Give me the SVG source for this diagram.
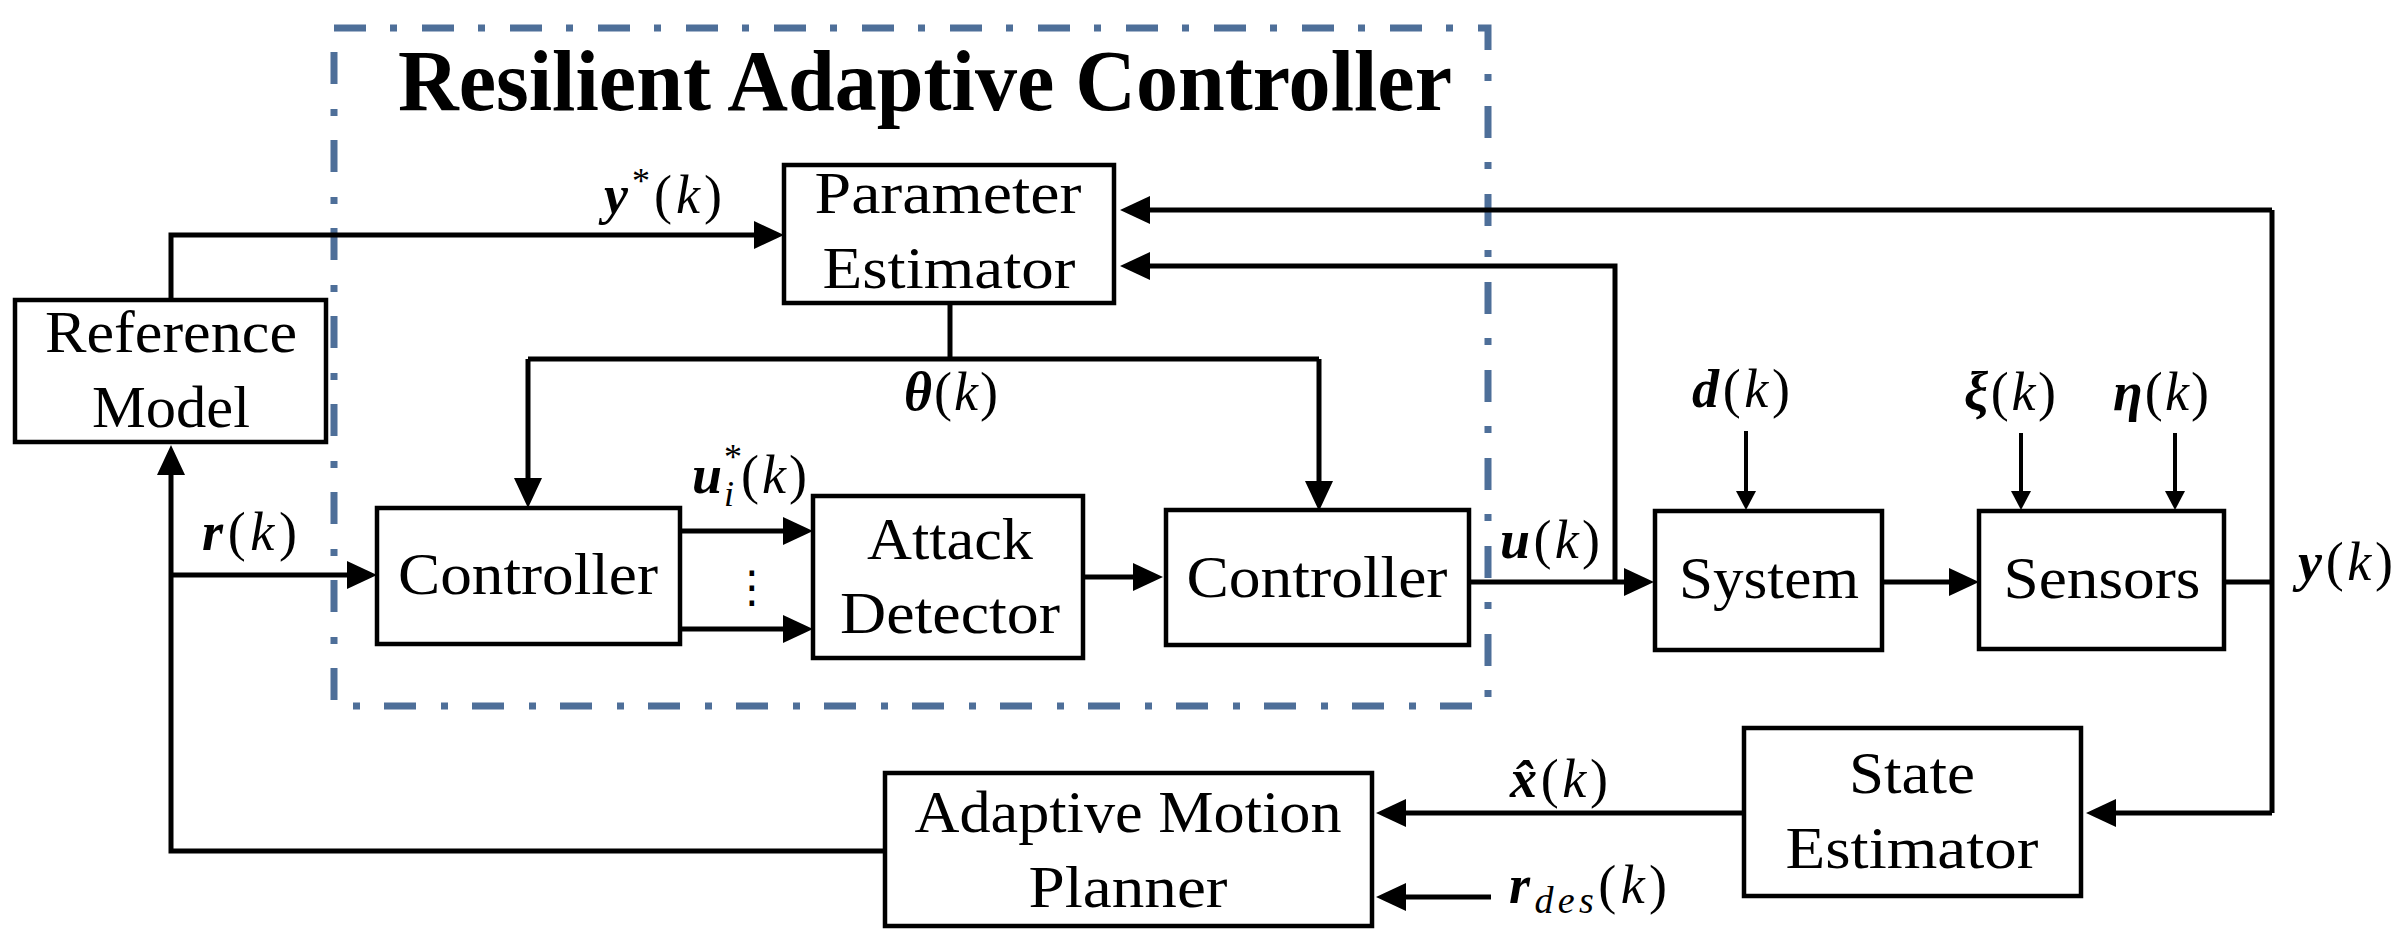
<svg xmlns="http://www.w3.org/2000/svg" width="2400" height="944" viewBox="0 0 2400 944">
<style>
.box{fill:#fff;stroke:#000;stroke-width:4.5}
.lbl{font-family:"Liberation Serif","DejaVu Serif",serif;font-size:60px;fill:#000;text-anchor:middle}
.m{font-family:"Liberation Serif","DejaVu Serif",serif;font-size:54px;fill:#000}
.v{font-weight:bold;font-style:italic}
.it{font-style:italic}
.c{fill:none;stroke:#000;stroke-width:5}
.t{fill:none;stroke:#000;stroke-width:4}
</style>
<defs>
<marker id="arr" markerUnits="userSpaceOnUse" viewBox="0 -14 30 28" markerWidth="30" markerHeight="28" refX="1" refY="0" orient="auto"><path d="M0,-14 L30,0 L0,14 z" fill="#000"/></marker>
<marker id="arrs" markerUnits="userSpaceOnUse" viewBox="0 -10 19 20" markerWidth="19" markerHeight="20" refX="1" refY="0" orient="auto"><path d="M0,-10 L19,0 L0,10 z" fill="#000"/></marker>
</defs>
<rect width="2400" height="944" fill="#fff"/>

<g id="rac-frame">
<rect x="334" y="28" width="1154" height="678" fill="none" stroke="#4E6F99" stroke-width="7" stroke-dasharray="32 24 7 25"/>
<text x="398" y="110" font-family="'Liberation Serif','DejaVu Serif',serif" font-weight="bold" font-size="86" textLength="1054" lengthAdjust="spacingAndGlyphs">Resilient Adaptive Controller</text>
</g>

<g id="connectors">
<path class="c" d="M171,300 V235 H755" marker-end="url(#arr)"/>
<path class="c" d="M2272,210 V813"/>
<path class="c" d="M2272,210 H1149" marker-end="url(#arr)"/>
<path class="c" d="M2272,813 H2115" marker-end="url(#arr)"/>
<path class="c" d="M1615,582 V266 H1149" marker-end="url(#arr)"/>
<path class="c" d="M1469,582 H1625" marker-end="url(#arr)"/>
<path class="c" d="M1882,582 H1950" marker-end="url(#arr)"/>
<path class="c" d="M2224,582 H2272"/>
<path class="t" d="M1746,431 V492" marker-end="url(#arrs)"/>
<path class="t" d="M2021,433 V492" marker-end="url(#arrs)"/>
<path class="t" d="M2175,433 V492" marker-end="url(#arrs)"/>
<path class="c" d="M1744,813 H1405" marker-end="url(#arr)"/>
<path class="c" d="M1491,897 H1405" marker-end="url(#arr)"/>
<path class="c" d="M885,851 H171 V474" marker-end="url(#arr)"/>
<path class="c" d="M171,575 H348" marker-end="url(#arr)"/>
<path class="c" d="M950,303 V359"/>
<path class="c" d="M528,359 H1319"/>
<path class="c" d="M528,359 V479" marker-end="url(#arr)"/>
<path class="c" d="M1319,359 V482" marker-end="url(#arr)"/>
<path class="c" d="M680,531 H784" marker-end="url(#arr)"/>
<path class="c" d="M680,629 H784" marker-end="url(#arr)"/>
<path class="c" d="M1083,577 H1134" marker-end="url(#arr)"/>
</g>

<g id="reference-model">
<rect class="box" x="15" y="300" width="311" height="142"/>
<text class="lbl" x="171" y="352" textLength="252" lengthAdjust="spacingAndGlyphs">Reference</text>
<text class="lbl" x="171" y="427" textLength="158" lengthAdjust="spacingAndGlyphs">Model</text>
</g>

<g id="parameter-estimator">
<rect class="box" x="784" y="165" width="330" height="138"/>
<text class="lbl" x="948" y="213" textLength="267" lengthAdjust="spacingAndGlyphs">Parameter</text>
<text class="lbl" x="949" y="288" textLength="253" lengthAdjust="spacingAndGlyphs">Estimator</text>
</g>

<g id="controller-1">
<rect class="box" x="377" y="508" width="303" height="136"/>
<text class="lbl" x="528" y="594" textLength="260" lengthAdjust="spacingAndGlyphs">Controller</text>
</g>

<g id="attack-detector">
<rect class="box" x="813" y="496" width="270" height="162"/>
<text class="lbl" x="950" y="559" textLength="166" lengthAdjust="spacingAndGlyphs">Attack</text>
<text class="lbl" x="950" y="633" textLength="220" lengthAdjust="spacingAndGlyphs">Detector</text>
</g>

<g id="controller-2">
<rect class="box" x="1166" y="510" width="303" height="135"/>
<text class="lbl" x="1317" y="597" textLength="261" lengthAdjust="spacingAndGlyphs">Controller</text>
</g>

<g id="system">
<rect class="box" x="1655" y="511" width="227" height="139"/>
<text class="lbl" x="1769" y="598" textLength="180" lengthAdjust="spacingAndGlyphs">System</text>
</g>

<g id="sensors">
<rect class="box" x="1979" y="511" width="245" height="138"/>
<text class="lbl" x="2102" y="598" textLength="197" lengthAdjust="spacingAndGlyphs">Sensors</text>
</g>

<g id="state-estimator">
<rect class="box" x="1744" y="728" width="337" height="168"/>
<text class="lbl" x="1912" y="793" textLength="126" lengthAdjust="spacingAndGlyphs">State</text>
<text class="lbl" x="1912" y="868" textLength="253" lengthAdjust="spacingAndGlyphs">Estimator</text>
</g>

<g id="adaptive-motion-planner">
<rect class="box" x="885" y="773" width="487" height="153"/>
<text class="lbl" x="1128" y="832" textLength="427" lengthAdjust="spacingAndGlyphs">Adaptive Motion</text>
<text class="lbl" x="1128" y="907" textLength="199" lengthAdjust="spacingAndGlyphs">Planner</text>
</g>

<g id="labels">
<text class="m" x="604" y="213" textLength="118" lengthAdjust="spacing"><tspan class="v">y</tspan><tspan dy="-20" font-size="36">*</tspan><tspan dy="20">(</tspan><tspan class="it">k</tspan>)</text>
<text class="m" x="904" y="410" textLength="94" lengthAdjust="spacing"><tspan class="v">θ</tspan>(<tspan class="it">k</tspan>)</text>
<text class="m" x="692" y="493"><tspan class="v">u</tspan><tspan x="724" y="469" font-size="36">*</tspan><tspan class="it" x="724" y="506" font-size="36">i</tspan><tspan x="741" y="493">(</tspan><tspan class="it" dx="3">k</tspan><tspan dx="3">)</tspan></text>
<text x="752" y="602" font-family="'DejaVu Sans',sans-serif" font-size="44" text-anchor="middle">⋮</text>
<text class="m" x="202" y="550" textLength="95" lengthAdjust="spacing"><tspan class="v">r</tspan>(<tspan class="it">k</tspan>)</text>
<text class="m" x="1500" y="558" textLength="100" lengthAdjust="spacing"><tspan class="v">u</tspan>(<tspan class="it">k</tspan>)</text>
<text class="m" x="1692" y="407" textLength="98" lengthAdjust="spacing"><tspan class="v">d</tspan>(<tspan class="it">k</tspan>)</text>
<text class="m" x="1964" y="410" textLength="92" lengthAdjust="spacing"><tspan class="v">ξ</tspan>(<tspan class="it">k</tspan>)</text>
<text class="m" x="2113" y="410" textLength="96" lengthAdjust="spacing"><tspan class="v">η</tspan>(<tspan class="it">k</tspan>)</text>
<text class="m" x="2298" y="580" textLength="95" lengthAdjust="spacing"><tspan class="v">y</tspan>(<tspan class="it">k</tspan>)</text>
<text class="m" x="1510" y="797" textLength="98" lengthAdjust="spacing"><tspan class="v">x̂</tspan>(<tspan class="it">k</tspan>)</text>
<text class="m" x="1509" y="903" textLength="158" lengthAdjust="spacing"><tspan class="v">r</tspan><tspan class="it" font-size="38" dy="10">des</tspan><tspan dy="-10">(</tspan><tspan class="it">k</tspan>)</text>
</g>
</svg>
